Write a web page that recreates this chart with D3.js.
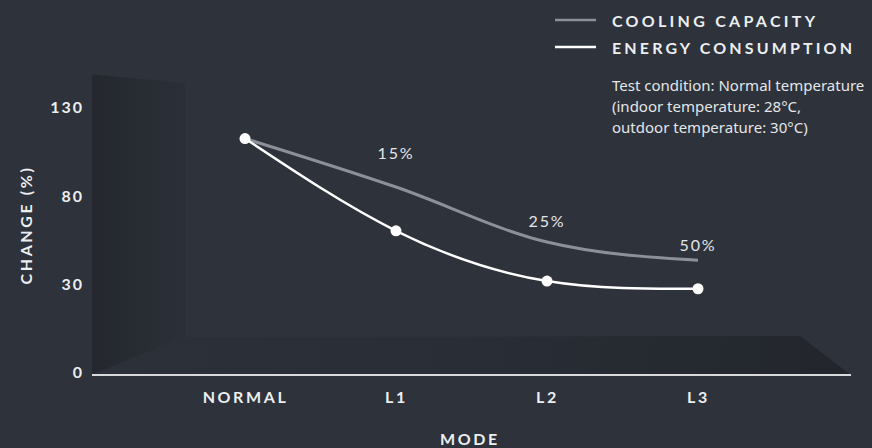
<!DOCTYPE html>
<html>
<head>
<meta charset="utf-8">
<script src="https://cdn.jsdelivr.net/npm/d3@7"></script>
<style>
  html, body { margin: 0; padding: 0; background: #2d323b; }
  svg { display: block; }
  text { font-family: Lato, "Noto Sans", sans-serif; }
</style>
</head>
<body>
<svg id="chart" width="872" height="448"></svg>
<script>
// ---- data ----
const modes = ["NORMAL", "L1", "L2", "L3"];
const yTicks = [0, 30, 80, 130];
const coolingCapacity = [114, 86.5, 55.3, 45];
const energyConsumption = [114, 61.7, 33.2, 29.3];
const savingLabels = ["", "15%", "25%", "50%"];
const savingLabelLevel = [null, 106, 67.8, 54.2];
const legendItems = ["COOLING CAPACITY", "ENERGY CONSUMPTION"];
const noteLines = ["Test condition: Normal temperature", "(indoor temperature: 28°C,", "outdoor temperature: 30°C)"];

const svg = d3.select("#chart");
const W = 872, H = 448;

svg.append("rect").attr("width", W).attr("height", H).attr("fill", "#2d323b");

// scales
const x = d3.scalePoint().domain(modes).range([245, 698]);
const y = d3.scaleLinear().domain(yTicks).range([375, 286.7, 198.5, 110.3]);

// pseudo 3D panels
const defs = svg.append("defs");
const gWall = defs.append("linearGradient").attr("id", "wallGrad").attr("x1", "0").attr("x2", "1").attr("y1", "0").attr("y2", "0");
gWall.append("stop").attr("offset", "0").attr("stop-color", "#24282e");
gWall.append("stop").attr("offset", "1").attr("stop-color", "#2b2f37");
const gFloor = defs.append("linearGradient").attr("id", "floorGrad").attr("x1", "0").attr("x2", "1").attr("y1", "0").attr("y2", "0");
gFloor.append("stop").attr("offset", "0").attr("stop-color", "#2c3139");
gFloor.append("stop").attr("offset", "0.5").attr("stop-color", "#292d35");
gFloor.append("stop").attr("offset", "1").attr("stop-color", "#22262c");

const xL = 92, xW = 185, xR = 800, xE = 851;
const yTop = y(130) - 36;
svg.append("path")
  .attr("d", `M${xL},${yTop}L${xW},${yTop + 9}L${xW},${y(0) - 38}L${xL},${y(0)}Z`)
  .attr("fill", "url(#wallGrad)");
svg.append("path")
  .attr("d", `M${xL},${y(0)}L${xW},${y(0) - 38}L${xR},${y(0) - 39}L${xE},${y(0)}Z`)
  .attr("fill", "url(#floorGrad)");

// baseline
svg.append("line")
  .attr("x1", xL).attr("x2", xE)
  .attr("y1", y(0)).attr("y2", y(0))
  .attr("stroke", "#d8d9db").attr("stroke-width", 2);

// y axis
const yAxis = svg.append("g").attr("transform", `translate(${xL},0)`)
  .call(d3.axisLeft(y).tickValues(yTicks).tickSize(0).tickPadding(8).tickFormat(d3.format("d")));
yAxis.select(".domain").remove();
yAxis.selectAll("text")
  .attr("dy", "-0.0em")
  .attr("y", 0)
  .attr("dominant-baseline", "central")
  .attr("transform", "translate(0,-4)")
  .attr("fill", "#eceef0")
  .style("font-size", "16px").style("font-weight", "700").style("letter-spacing", "2px")
  .style("font-family", "Lato, sans-serif");

// x axis
const xAxis = svg.append("g").attr("transform", `translate(0,${y(0)})`)
  .call(d3.axisBottom(x).tickSize(0));
xAxis.select(".domain").remove();
xAxis.selectAll("text")
  .attr("y", 21).attr("dy", "0").attr("dominant-baseline", "central")
  .attr("fill", "#eceef0")
  .style("font-size", "16px").style("font-weight", "700").style("letter-spacing", "2.6px")
  .style("font-family", "Lato, sans-serif");

// axis titles
svg.append("text")
  .attr("transform", "translate(25,225) rotate(-90)")
  .attr("text-anchor", "middle").attr("dominant-baseline", "central")
  .attr("fill", "#eceef0")
  .style("font-size", "16px").style("font-weight", "700").style("letter-spacing", "2.6px")
  .text("CHANGE (%)");
svg.append("text")
  .attr("x", 470).attr("y", 438)
  .attr("text-anchor", "middle").attr("dominant-baseline", "central")
  .attr("fill", "#eceef0")
  .style("font-size", "16px").style("font-weight", "700").style("letter-spacing", "2.6px")
  .text("MODE");

// lines
const coolLine = d3.line().x((d, i) => x(modes[i])).y(d => y(d)).curve(d3.curveMonotoneX);
const energyLine = d3.line().x((d, i) => x(modes[i])).y(d => y(d)).curve(d3.curveNatural);

svg.append("path").datum(coolingCapacity)
  .attr("d", coolLine).attr("fill", "none")
  .attr("stroke", "#8d9096").attr("stroke-width", 3);
svg.append("path").datum(energyConsumption)
  .attr("d", energyLine).attr("fill", "none")
  .attr("stroke", "#ffffff").attr("stroke-width", 2.5);

svg.selectAll("circle.pt").data(energyConsumption).join("circle")
  .attr("class", "pt")
  .attr("cx", (d, i) => x(modes[i])).attr("cy", d => y(d))
  .attr("r", 5.5).attr("fill", "#ffffff");

// saving labels
svg.selectAll("text.save").data(savingLabels.map((t, i) => ({ t, i })).filter(d => d.t))
  .join("text").attr("class", "save")
  .attr("x", d => x(modes[d.i])).attr("y", d => y(savingLabelLevel[d.i]))
  .attr("text-anchor", "middle").attr("dominant-baseline", "central")
  .attr("fill", "#e4e6e8")
  .style("font-size", "16px").style("letter-spacing", "1.8px")
  .text(d => d.t);

// legend
const legendColors = ["#8d9096", "#ffffff"];
const legendWidths = [203, 240];
legendItems.forEach((t, i) => {
  const ly = 20 + i * 27;
  svg.append("line").attr("x1", 555).attr("x2", 596).attr("y1", ly).attr("y2", ly)
    .attr("stroke", legendColors[i]).attr("stroke-width", 2.5);
  svg.append("text").attr("x", 612).attr("y", ly)
    .attr("dominant-baseline", "central")
    .attr("fill", "#eceef0")
    .attr("textLength", legendWidths[i]).attr("lengthAdjust", "spacing")
    .style("font-size", "16px").style("font-weight", "700")
    .text(t);
});

// note
noteLines.forEach((t, i) => {
  svg.append("text").attr("x", 612).attr("y", 85 + i * 21)
    .attr("dominant-baseline", "central")
    .attr("fill", "#e4e6e8")
    .style("font-size", "15px").style("font-family", "'Noto Sans', sans-serif")
    .text(t);
});
</script>
</body>
</html>
